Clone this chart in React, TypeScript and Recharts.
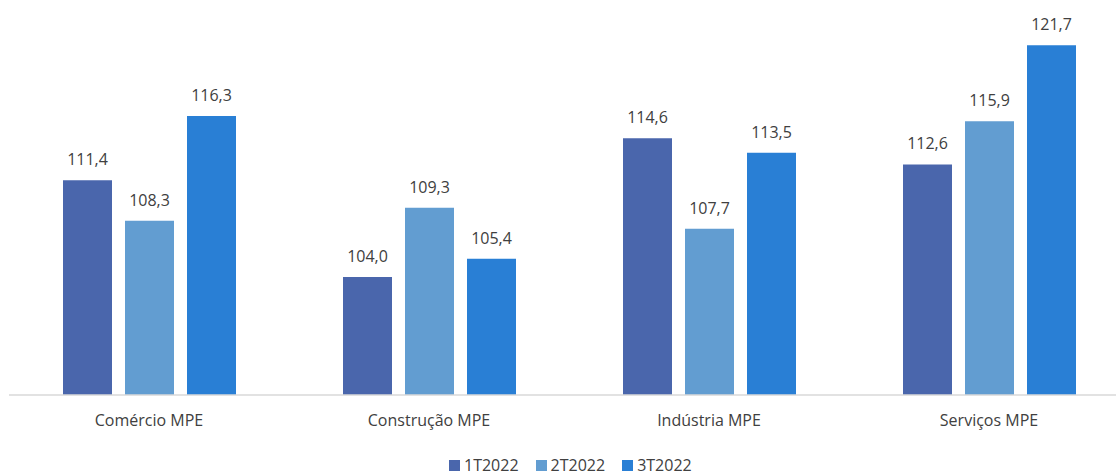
import * as React from "react"
import { BarChart, Bar, XAxis, YAxis, LabelList } from "recharts"

const categories = ["Comércio MPE", "Construção MPE", "Indústria MPE", "Serviços MPE"]
const series1T2022 = [111.4, 104.0, 114.6, 112.6]
const series2T2022 = [108.3, 109.3, 107.7, 115.9]
const series3T2022 = [116.3, 105.4, 113.5, 121.7]

const SERIES = [
  { key: "t1", name: "1T2022", color: "#4a66ac", values: series1T2022 },
  { key: "t2", name: "2T2022", color: "#629dd1", values: series2T2022 },
  { key: "t3", name: "3T2022", color: "#297fd5", values: series3T2022 },
]

const TEXT = "#404040"
const FONT = "'Open Sans', 'Noto Sans', sans-serif"

const fmt = (v: any) => Number(v).toFixed(1).replace(".", ",")

export default function App() {
  const data = categories.map((name, i) => {
    const row: any = { name }
    SERIES.forEach((s) => {
      row[s.key] = s.values[i]
    })
    return row
  })

  return (
    <div
      style={{
        position: "absolute",
        left: 0,
        top: 0,
        width: 1116,
        height: 475,
        overflow: "hidden",
        background: "#ffffff",
        fontFamily: FONT,
      }}
    >
      <BarChart
        width={1140}
        height={475}
        data={data}
        margin={{ top: 2, right: 11, left: 9, bottom: 50 }}
        barCategoryGap={54}
        barGap={13}
      >
        <XAxis
          dataKey="name"
          height={30}
          tickLine={false}
          tickSize={0}
          tickMargin={20}
          axisLine={{ stroke: "#d9d9d9", strokeWidth: 1.5 }}
          tick={{ fill: TEXT, fontSize: 16, fontFamily: FONT }}
          interval={0}
        />
        <YAxis hide domain={[95, 125]} />
        {SERIES.map((s) => (
          <Bar key={s.key} dataKey={s.key} name={s.name} fill={s.color} isAnimationActive={false}>
            <LabelList
              dataKey={s.key}
              position="top"
              offset={15}
              formatter={fmt}
              style={{ fill: TEXT, fontSize: 16, fontFamily: FONT }}
            />
          </Bar>
        ))}
      </BarChart>
      <div
        style={{
          position: "absolute",
          left: 449,
          top: 457,
          height: 17,
          display: "flex",
          alignItems: "center",
          fontSize: 16,
          lineHeight: "17px",
          color: TEXT,
          whiteSpace: "nowrap",
        }}
      >
        {SERIES.map((s) => (
          <div key={s.key} style={{ display: "flex", alignItems: "center", marginRight: 17 }}>
            <span style={{ width: 11, height: 11, background: s.color, marginRight: 4, display: "inline-block" }} />
            <span>{s.name}</span>
          </div>
        ))}
      </div>
    </div>
  )
}
